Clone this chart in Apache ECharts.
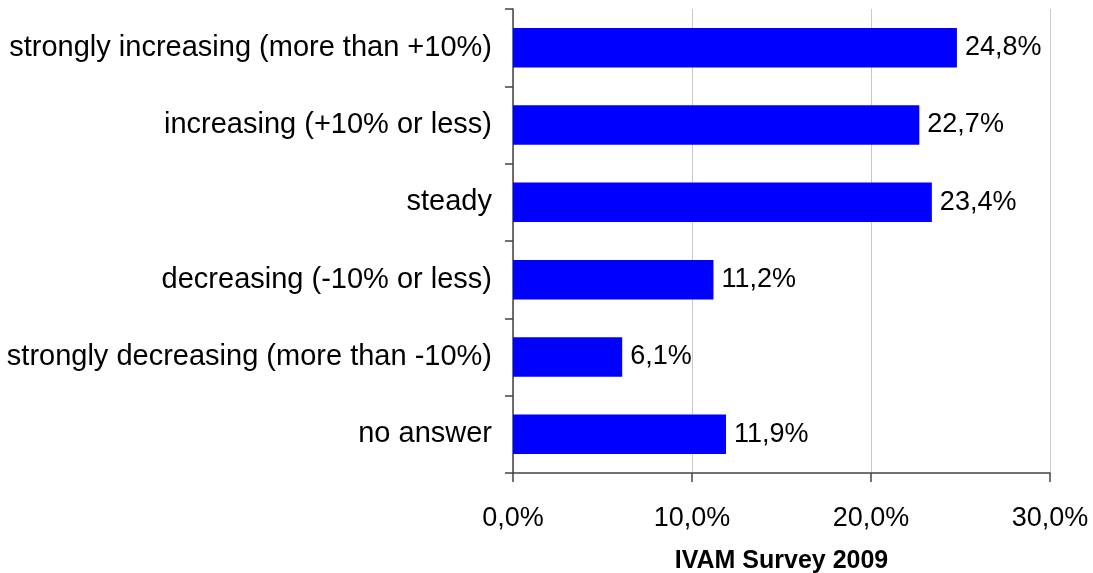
<!DOCTYPE html>
<html>
<head>
<meta charset="utf-8">
<script src="https://cdn.jsdelivr.net/npm/echarts@6/dist/echarts.min.js"></script>
<style>
  html, body { margin: 0; padding: 0; background: #fff; }
  #chart { width: 1093px; height: 573px; }
</style>
</head>
<body>
<div id="chart"></div>
<script>
/*数据*/
var categories = [
  'strongly increasing (more than +10%)',
  'increasing (+10% or less)',
  'steady',
  'decreasing (-10% or less)',
  'strongly decreasing (more than -10%)',
  'no answer'
];
var shares = [24.8, 22.7, 23.4, 11.2, 6.1, 11.9];
var xTicks = [0, 10, 20, 30];
var axisTitle = 'IVAM Survey 2009';

//逗号小数
function fmt(v) {
  return Number(v).toFixed(1).replace('.', ',') + '%';
}

var chart = echarts.init(document.getElementById('chart'));
var option = {
  animation: false,
  textStyle: { fontFamily: 'Liberation Sans, Arial, sans-serif' },
  grid: { left: 513, right: 43, top: 9, bottom: 100, containLabel: false, outerBoundsMode: 'none' },
  xAxis: {
    type: 'value',
    min: xTicks[0],
    max: xTicks[xTicks.length - 1],
    interval: 10,
    name: axisTitle,
    nameLocation: 'middle',
    nameGap: 76,
    nameTextStyle: { fontSize: 25, fontWeight: 'bold', color: '#000' },
    axisLine: { show: true, lineStyle: { color: '#444', width: 1.5 } },
    axisTick: { show: true, length: 9, lineStyle: { color: '#444', width: 1.5 } },
    axisLabel: { fontSize: 27, color: '#000', margin: 32, formatter: fmt },
    splitLine: { show: true, lineStyle: { color: '#c8c8c8', width: 1 } }
  },
  yAxis: {
    type: 'category',
    data: categories,
    inverse: true,
    axisLine: { show: true, lineStyle: { color: '#444', width: 1.5 } },
    axisTick: { show: true, length: 8, lineStyle: { color: '#444', width: 1.5 } },
    axisLabel: { fontSize: 29, color: '#000', margin: 21 },
    splitLine: { show: false }
  },
  series: [{
    type: 'bar',
    data: shares,
    barWidth: '51%',
    itemStyle: { color: '#0000ff' },
    label: {
      show: true,
      position: 'right',
      distance: 8,
      fontSize: 27,
      color: '#000',
      formatter: function (p) { return fmt(p.value); }
    }
  }]
};
chart.setOption(option);
</script>
</body>
</html>
